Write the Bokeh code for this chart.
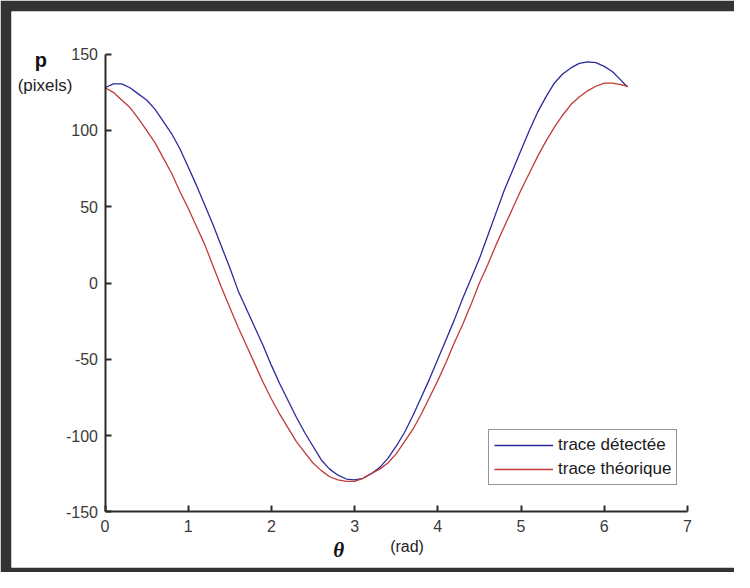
from bokeh.plotting import figure
from bokeh.models import Range1d, Legend, LegendItem, Label, FixedTicker
from bokeh.embed import file_html
from bokeh.resources import INLINE

# ---- data ----
theta_red = [0.0, 0.1, 0.2, 0.3, 0.4, 0.5, 0.6, 0.7, 0.8, 0.9, 1.0, 1.1, 1.2, 1.3, 1.4,
             1.5, 1.6, 1.7, 1.8, 1.9, 2.0, 2.1, 2.2, 2.3, 2.4, 2.5, 2.6, 2.7, 2.8, 2.9,
             3.0, 3.1, 3.2, 3.3, 3.4, 3.5, 3.6, 3.7, 3.8, 3.9, 4.0, 4.1, 4.2, 4.3, 4.4,
             4.5, 4.6, 4.7, 4.8, 4.9, 5.0, 5.1, 5.2, 5.3, 5.4, 5.5, 5.6, 5.7, 5.8, 5.9,
             6.0, 6.1, 6.2, 6.28]
p_red = [128, 125, 120, 115, 108, 100, 92, 82, 72, 60, 49, 37, 25, 11, -3,
         -16, -29, -41, -53, -65, -76, -86, -95, -104, -111, -118, -123, -127, -129, -130,
         -130, -128, -125, -122, -118, -112, -104, -96, -86, -75, -64, -52, -39, -27, -14,
         0, 12, 25, 37, 49, 61, 72, 83, 93, 102, 110, 117, 122, 126, 129,
         131, 131, 130, 129]

theta_blue = [0.0, 0.1, 0.2, 0.3, 0.4, 0.5, 0.6, 0.7, 0.8, 0.9, 1.0, 1.1, 1.2, 1.3, 1.4,
              1.5, 1.6, 1.7, 1.8, 1.9, 2.0, 2.1, 2.2, 2.3, 2.4, 2.5, 2.6, 2.7, 2.8, 2.9,
              3.0, 3.1, 3.2, 3.3, 3.4, 3.5, 3.6, 3.7, 3.8, 3.9, 4.0, 4.1, 4.2, 4.3, 4.4,
              4.5, 4.6, 4.7, 4.8, 4.9, 5.0, 5.1, 5.2, 5.3, 5.4, 5.5, 5.6, 5.7, 5.8, 5.9,
              6.0, 6.1, 6.2, 6.28]
p_blue = [128, 130.5, 130.5, 128, 124, 120, 114, 106, 98, 88, 76, 64, 51, 38, 24,
          10, -5, -17, -29, -41, -54, -66, -77, -88, -98, -107, -116, -122, -126, -128.5,
          -129, -128, -125, -121, -115, -107, -98, -87, -75, -63, -50, -37, -24, -10, 3,
          16, 31, 46, 61, 74, 87, 100, 112, 122, 131, 137, 141, 144, 145, 144.5,
          142, 138.5, 133, 128.5]

x_ticks = [0, 1, 2, 3, 4, 5, 6, 7]
y_ticks = [-150, -100, -50, 0, 50, 100, 150]
series_names = ["trace détectée", "trace théorique"]

FONT = "Liberation Sans"
DARK = "#333333"

p = figure(width=734, height=572,
           x_range=Range1d(-1.1238, 7.566), y_range=Range1d(-186.5, 178.0),
           output_backend="svg", toolbar_location=None,
           min_border_left=11, min_border_right=0,
           min_border_top=11, min_border_bottom=5)

p.background_fill_color = "white"
p.border_fill_color = DARK
p.outline_line_color = None
p.grid.visible = False

p.xaxis.fixed_location = -150
p.xaxis.bounds = (0, 7)
p.yaxis.fixed_location = 0
p.yaxis.bounds = (-150, 150)

for ax, ticks in ((p.xaxis[0], x_ticks), (p.yaxis[0], y_ticks)):
    ax.ticker = FixedTicker(ticks=ticks)
    ax.major_label_overrides = {t: str(t) for t in ticks}
    ax.axis_line_color = "#2a2a2a"
    ax.axis_line_width = 2
    ax.major_tick_line_color = "#2a2a2a"
    ax.major_tick_line_width = 2
    ax.major_tick_in = 6
    ax.major_tick_out = 0
    ax.minor_tick_line_color = None
    ax.major_label_text_font = FONT
    ax.major_label_text_font_size = "16px"
    ax.major_label_text_color = "#3a3a3a"
p.xaxis.major_label_standoff = 8
p.yaxis.major_label_standoff = 7

r_blue = p.line(theta_blue, p_blue, line_color="#2a2a9c", line_width=1.3)
r_red = p.line(theta_red, p_red, line_color="#c03a3a", line_width=1.3)

legend = Legend(items=[LegendItem(label=series_names[0], renderers=[r_blue]),
                       LegendItem(label=series_names[1], renderers=[r_red])],
                location=(477, 82))
legend.label_text_font = FONT
legend.label_text_font_size = "17px"
legend.label_text_color = "#1a1a1a"
legend.border_line_color = "#2a2a2a"
legend.border_line_width = 1.2
legend.background_fill_color = "white"
legend.background_fill_alpha = 1
legend.padding = 5
legend.margin = 0
legend.spacing = 4
legend.label_height = 20
legend.glyph_height = 20
legend.glyph_width = 59
legend.label_standoff = 5
p.add_layout(legend, "center")

p.add_layout(Label(x=-0.77, y=139, text="p", text_font=FONT, text_font_size="20px",
                   text_font_style="bold", text_align="center", text_color="#111"))
p.add_layout(Label(x=-0.72, y=123, text="(pixels)", text_font=FONT, text_font_size="17px",
                   text_align="center", text_color="#222"))
p.add_layout(Label(x=2.81, y=-183, text="θ", text_font="Liberation Serif", text_font_size="21px",
                   text_font_style="bold italic", text_align="center", text_color="#111"))
p.add_layout(Label(x=3.63, y=-178.5, text="(rad)", text_font=FONT, text_font_size="16px",
                   text_align="center", text_color="#222"))

open("out.html", "w").write(file_html(p, INLINE))
